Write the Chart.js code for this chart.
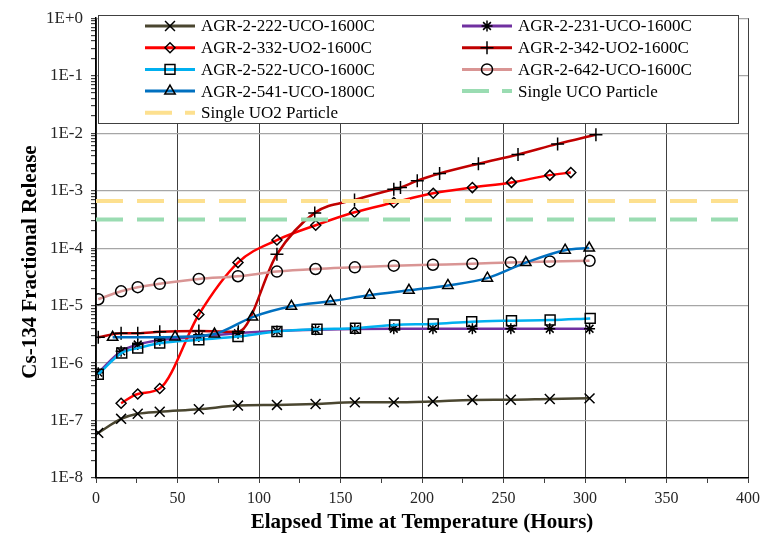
<!DOCTYPE html>
<html>
<head>
<meta charset="utf-8">
<title>Cs-134 Fractional Release</title>
<script src="https://cdn.jsdelivr.net/npm/chart.js"></script>
<style>
  html, body { margin: 0; padding: 0; background: #fff; }
  #wrap { width: 762px; height: 536px; }
</style>
</head>
<body>
<div id="wrap"><canvas id="chart" width="762" height="536"></canvas></div>
<script>
// elapsed hours at temperature for each heating test
const hours222 = [1.4, 15.4, 25.6, 39.1, 63.1, 87.1, 111, 134.7, 158.8, 182.7, 206.7, 230.9, 254.5, 278.4, 302.8];
const hours522 = [1.4, 15.8, 25.6, 39.1, 63.1, 87.1, 111, 135.6, 159.2, 183.2, 206.9, 230.5, 254.9, 278.6, 303.2];
const hours332 = [15.4, 25.6, 39.1, 63.1, 87.1, 111, 134.8, 158.6, 182.7, 206.9, 230.9, 254.9, 278.4, 291.3];
const hours342 = [1.4, 15.4, 25.6, 39.1, 63.1, 87.3, 111, 134.2, 158.6, 182.7, 186.8, 197.1, 210.8, 234.6, 258.9, 283.2, 306.7];
const hours541 = [10.2, 48.5, 72.7, 96, 119.9, 143.8, 167.8, 192, 215.9, 240.1, 263.7, 287.8, 302.6];
const hoursLine = [0, 400];

// Cs-134 fractional release
const release222 = [6.1e-8, 1.07e-7, 1.31e-7, 1.42e-7, 1.57e-7, 1.82e-7, 1.87e-7, 1.94e-7, 2.07e-7, 2.07e-7, 2.15e-7, 2.28e-7, 2.3e-7, 2.37e-7, 2.43e-7];
const release231 = [6.8e-7, 1.6e-6, 2.1e-6, 2.5e-6, 2.9e-6, 3.3e-6, 3.6e-6, 3.8e-6, 3.9e-6, 3.95e-6, 3.95e-6, 3.95e-6, 3.95e-6, 3.95e-6, 3.95e-6];
const release332 = [2.0e-7, 2.9e-7, 3.6e-7, 7.0e-6, 5.6e-5, 1.38e-4, 2.5e-4, 4.2e-4, 6.2e-4, 9.0e-4, 1.13e-3, 1.39e-3, 1.86e-3, 2.06e-3];
const release342 = [2.8e-6, 3.3e-6, 3.3e-6, 3.5e-6, 3.6e-6, 3.5e-6, 7.8e-5, 4.1e-4, 6.9e-4, 1.06e-3, 1.13e-3, 1.49e-3, 1.98e-3, 2.94e-3, 4.26e-3, 6.5e-3, 9.4e-3];
const release522 = [6.4e-7, 1.5e-6, 1.82e-6, 2.22e-6, 2.54e-6, 2.9e-6, 3.53e-6, 3.87e-6, 4.03e-6, 4.6e-6, 4.79e-6, 5.25e-6, 5.46e-6, 5.6e-6, 5.98e-6];
const release642 = [1.29e-5, 1.77e-5, 2.09e-5, 2.39e-5, 2.91e-5, 3.24e-5, 3.9e-5, 4.33e-5, 4.63e-5, 4.94e-5, 5.14e-5, 5.35e-5, 5.63e-5, 5.86e-5, 6.02e-5];
const release541 = [2.8e-6, 2.85e-6, 3.2e-6, 6.3e-6, 9.7e-6, 1.19e-5, 1.51e-5, 1.84e-5, 2.24e-5, 3.0e-5, 5.6e-5, 9.2e-5, 1.0e-4];
const singleUCO = [3.15e-4, 3.15e-4];
const singleUO2 = [6.6e-4, 6.6e-4];

// axis ticks
const xTickLabels = [0, 50, 100, 150, 200, 250, 300, 350, 400];
const yDecades = [1e-8, 1e-7, 1e-6, 1e-5, 1e-4, 1e-3, 1e-2, 1e-1, 1];
const yTickLabels = ['1E-8', '1E-7', '1E-6', '1E-5', '1E-4', '1E-3', '1E-2', '1E-1', '1E+0'];

const yTitle = 'Cs-134 Fractional Release';
const xTitle = 'Elapsed Time at Temperature (Hours)';

const serif = '"Liberation Serif", "Times New Roman", serif';

const pts = (xs, ys) => xs.map((x, i) => ({ x, y: ys[i] }));

function series(label, xs, ys, color, style, radius) {
    return {
        label,
        data: pts(xs, ys),
        borderColor: color,
        backgroundColor: color,
        borderWidth: 2.5,
        cubicInterpolationMode: 'monotone',
        pointStyle: style,
        pointRadius: radius,
        pointBorderColor: '#000',
        pointBackgroundColor: 'rgba(0,0,0,0)',
        pointBorderWidth: 1.5,
    };
}

function dashed(label, ys, color) {
    return {
        label,
        data: pts(hoursLine, ys),
        borderColor: color,
        backgroundColor: color,
        borderWidth: 4,
        borderDash: [27, 14],
        pointRadius: 0,
        isDashed: true,
    };
}

const datasets = [
    series('AGR-2-222-UCO-1600C', hours222, release222, '#4a4630', 'crossRot', 7),
    series('AGR-2-231-UCO-1600C', hours222, release231, '#7030a0', 'star', 5.5),
    series('AGR-2-332-UO2-1600C', hours332, release332, '#ff0000', 'rectRot', 5),
    series('AGR-2-342-UO2-1600C', hours342, release342, '#c00000', 'cross', 6.5),
    series('AGR-2-522-UCO-1600C', hours522, release522, '#00b0f0', 'rect', 7),
    series('AGR-2-642-UCO-1600C', hours222, release642, '#d99594', 'circle', 5.5),
    series('AGR-2-541-UCO-1800C', hours541, release541, '#0070c0', 'triangle', 6),
    dashed('Single UCO Particle', singleUCO, '#9adcb2'),
    dashed('Single UO2 Particle', singleUO2, '#fde08f'),
];
// later series are drawn on top, as in the source workbook
datasets.forEach((ds, i) => { ds.order = 20 - i; });

const isDecade = v => yDecades.some(d => Math.abs(Math.log10(v) - Math.log10(d)) < 1e-6);

// legend box inside the plot area (two columns) and the y-axis title
const boxLegend = {
    id: 'boxLegend',
    afterDraw(chart) {
        const ctx = chart.ctx;
        ctx.save();
        ctx.fillStyle = '#fff';
        ctx.fillRect(98, 15, 640, 108);
        ctx.strokeStyle = '#404040';
        ctx.lineWidth = 1;
        ctx.strokeRect(98.5, 15.5, 640, 108);
        ctx.font = '17px ' + serif;
        ctx.textBaseline = 'middle';
        ctx.textAlign = 'left';
        chart.data.datasets.forEach((ds, i) => {
            const col = i % 2;
            const row = Math.floor(i / 2);
            const y = 26 + row * 21.7;
            const x0 = col ? 462 : 145;
            const x1 = x0 + 50;
            ctx.save();
            ctx.strokeStyle = ds.borderColor;
            ctx.lineWidth = ds.isDashed ? 4 : 3;
            if (ds.isDashed) ctx.setLineDash([27, 13]);
            ctx.beginPath();
            ctx.moveTo(x0, y);
            ctx.lineTo(x1, y);
            ctx.stroke();
            ctx.restore();
            if (!ds.isDashed && Chart.helpers && Chart.helpers.drawPoint) {
                ctx.save();
                ctx.strokeStyle = '#000';
                ctx.fillStyle = 'rgba(0,0,0,0)';
                ctx.lineWidth = 1.5;
                Chart.helpers.drawPoint(ctx, {
                    pointStyle: ds.pointStyle,
                    radius: ds.pointRadius,
                    rotation: 0,
                    borderWidth: 1.5,
                }, (x0 + x1) / 2, y);
                ctx.restore();
            }
            ctx.fillStyle = '#000';
            ctx.fillText(ds.label, x1 + 6, y + 1);
        });

        // y-axis title sits a little below the middle of the axis in the source
        ctx.translate(31, 262);
        ctx.rotate(-Math.PI / 2);
        ctx.textAlign = 'center';
        ctx.font = 'bold 21px ' + serif;
        ctx.fillText(yTitle, 0, 0);
        ctx.restore();
    },
};

const chart = new Chart(document.getElementById('chart'), {
    type: 'line',
    data: { datasets },
    options: {
        responsive: false,
        animation: false,
        layout: { padding: { left: 0, top: 15, right: 14, bottom: 0 } },
        plugins: {
            legend: { display: false },
            tooltip: { enabled: false },
        },
        scales: {
            x: {
                type: 'linear',
                min: 0,
                max: 400,
                afterFit: scale => {
                    scale.height = 58;
                    scale.paddingLeft = 0;
                    scale.paddingRight = 0;
                },
                border: { color: '#000', width: 1.5 },
                grid: {
                    color: c => (c.tick && c.tick.value % 50 === 0 ? '#404040' : 'rgba(0,0,0,0)'),
                    lineWidth: 1,
                    tickColor: '#404040',
                    tickLength: 5,
                },
                ticks: {
                    stepSize: 25,
                    autoSkip: false,
                    maxRotation: 0,
                    padding: 6,
                    color: '#262626',
                    font: { family: serif, size: 16 },
                    callback: v => (xTickLabels.includes(v) ? String(v) : ''),
                },
                title: {
                    display: true,
                    text: xTitle,
                    color: '#000',
                    font: { family: serif, size: 21, weight: 'bold' },
                    padding: { top: 0, bottom: 1 },
                },
            },
            y: {
                type: 'logarithmic',
                min: 1e-8,
                max: 1,
                afterFit: scale => { scale.width = 96; },
                afterBuildTicks: scale => {
                    const vals = [];
                    for (let e = -8; e < 0; e++) {
                        for (let m = 1; m <= 9; m++) vals.push(m * Math.pow(10, e));
                    }
                    vals.push(1);
                    scale.ticks = vals.map(v => ({ value: v }));
                },
                border: { color: '#000', width: 1.5 },
                grid: {
                    color: c => (c.tick && isDecade(c.tick.value) ? '#a6a6a6' : 'rgba(0,0,0,0)'),
                    lineWidth: 1.2,
                    tickColor: '#404040',
                    tickLength: 5,
                },
                ticks: {
                    autoSkip: false,
                    padding: 8,
                    color: '#262626',
                    font: { family: serif, size: 17 },
                    callback: v => {
                        const i = yDecades.findIndex(d => Math.abs(Math.log10(v) - Math.log10(d)) < 1e-6);
                        return i >= 0 ? yTickLabels[i] : '';
                    },
                },
                title: { display: false },
            },
        },
    },
    plugins: [boxLegend],
});
</script>
</body>
</html>
